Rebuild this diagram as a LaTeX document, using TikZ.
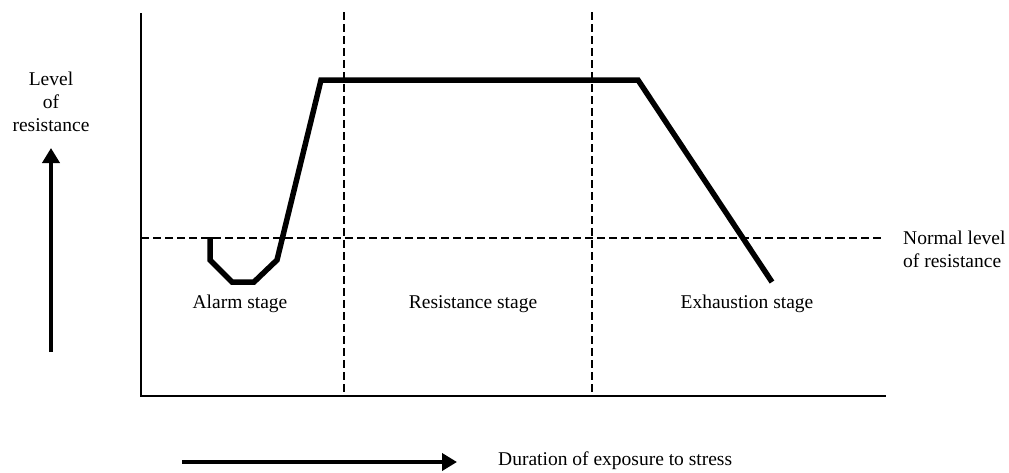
\documentclass[tikz,border=0pt]{standalone}
\usepackage{fontspec}
\setmainfont{Liberation Serif}
\usetikzlibrary{arrows.meta}
\begin{document}
\begin{tikzpicture}[x=1pt,y=-1pt,
  lbl/.style={font=\fontsize{19.5}{23}\selectfont, inner sep=0pt, align=center},
  axisline/.style={line width=1.8pt},
  dashline/.style={line width=2.4pt, dash pattern=on 7.5pt off 4.5pt},
  curve/.style={line width=5.5pt, line join=miter},
  bigarrow/.style={line width=4pt, -{Triangle[length=15pt,width=17pt]}}]
\useasboundingbox (0,0) rectangle (1009,472);
% axes
\coordinate (ytop) at (141,13);
\coordinate (orig) at (141,396);
\coordinate (xend) at (886,396);
\draw[axisline] (ytop) -- (orig) -- (xend);
% dashed lines
\coordinate (n1) at (141,238);
\coordinate (n2) at (885,238);
\draw[dashline] (n1) -- (n2);
\coordinate (v1t) at (344,12);
\coordinate (v1b) at (344,396);
\coordinate (v2t) at (592,12);
\coordinate (v2b) at (592,396);
\draw[dashline] (v1t) -- (v1b);
\draw[dashline] (v2t) -- (v2b);
% curve
\coordinate (c0) at (210,237);
\coordinate (c1) at (210,260);
\coordinate (c2) at (232,282);
\coordinate (c3) at (254,282);
\coordinate (c4) at (277,260);
\coordinate (c5) at (321,80);
\coordinate (c6) at (638,80);
\coordinate (c7) at (772,282);
\draw[curve] (c0) -- (c1) -- (c2) -- (c3) -- (c4) -- (c5) -- (c6) -- (c7);
% labels
\node[lbl] (ylabel) at (51,102) {Level\\of\\resistance};
\node[lbl] (alarm) at (240,304) {Alarm stage};
\node[lbl] (resist) at (473,304) {Resistance stage};
\node[lbl] (exh) at (747,304) {Exhaustion stage};
\node[lbl, anchor=west, align=left] (normal) at (903,249) {Normal level\\of resistance};
\node[lbl, anchor=west] (dur) at (498,461) {Duration of exposure to stress};
% arrows
\coordinate (ua0) at (51,352);
\coordinate (ua1) at (51,148);
\draw[bigarrow] (ua0) -- (ua1);
\coordinate (ra0) at (182,462);
\coordinate (ra1) at (457,462);
\draw[bigarrow] (ra0) -- (ra1);
\end{tikzpicture}
\end{document}
